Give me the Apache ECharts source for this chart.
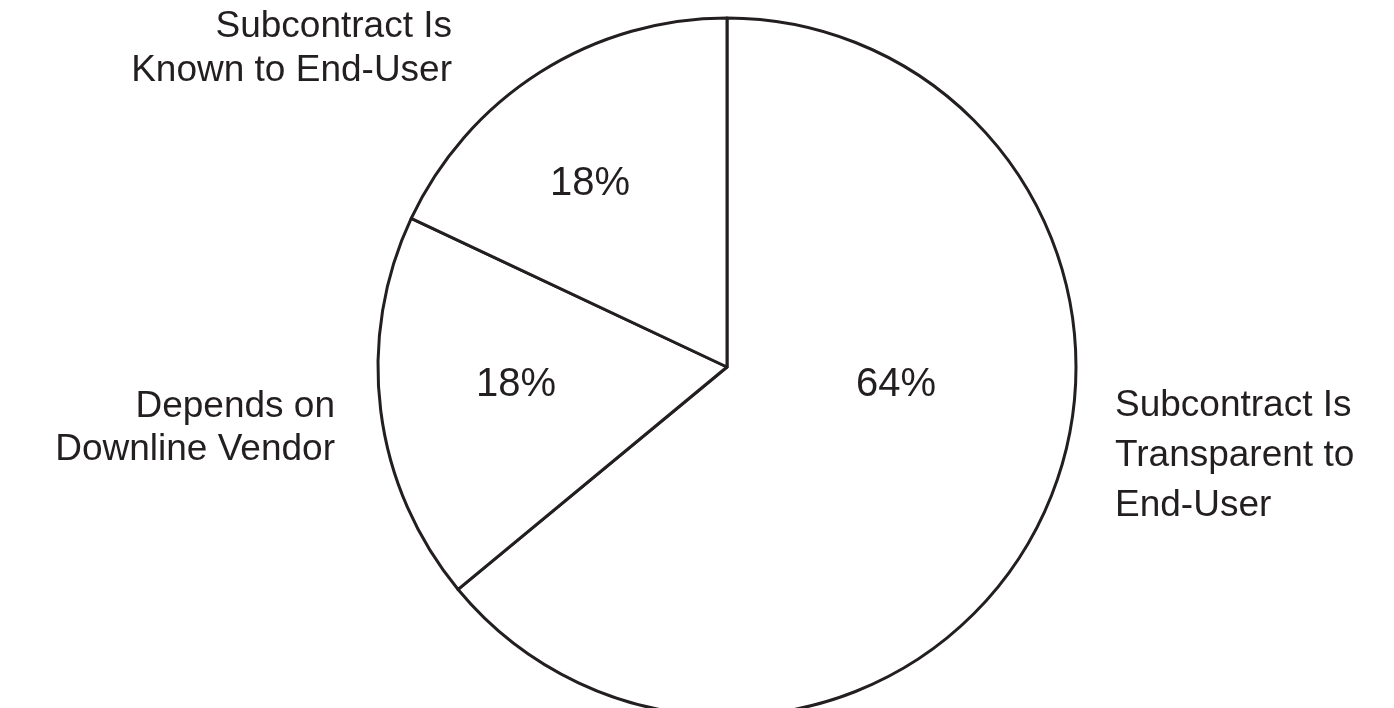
<!DOCTYPE html>
<html>
<head>
<meta charset="utf-8">
<script src="https://cdn.jsdelivr.net/npm/echarts@6/dist/echarts.min.js"></script>
<style>
  html, body { margin: 0; padding: 0; background: #fff; }
  #chart { width: 1394px; height: 708px; }
</style>
</head>
<body>
<div id="chart"></div>
<script>
// data, clockwise from 12 o'clock
const categories = [
  "Subcontract Is\nTransparent to\nEnd-User",
  "Depends on\nDownline Vendor",
  "Subcontract Is\nKnown to End-User"
]
const shares = [64, 18, 18]

// label placement (pixels), kept apart from the data
const pctPos = [[896, 385], [516, 385], [590, 184]]
const namePos = [
  { x: 1115, y: 456, align: "left", lineHeight: 50 },
  { x: 335, y: 428, align: "right", lineHeight: 43 },
  { x: 452, y: 49, align: "right", lineHeight: 44 }
]

const ink = "#231f20"
const font = "'Liberation Sans', Arial, Helvetica, sans-serif"

const chart = echarts.init(document.getElementById("chart"))

const option = {
  backgroundColor: "#fff",
  animation: false,
  series: [
    {
      type: "pie",
      center: [727, 367],
      radius: 349,
      startAngle: 90,
      clockwise: true,
      silent: true,
      itemStyle: { color: "#fff", borderColor: ink, borderWidth: 3 },
      label: {
        show: true,
        position: "inside",
        formatter: "{c}%",
        color: ink,
        fontFamily: font,
        fontSize: 40
      },
      labelLine: { show: false },
      labelLayout: (p) => ({
        x: pctPos[p.dataIndex][0],
        y: pctPos[p.dataIndex][1],
        align: "center",
        verticalAlign: "middle"
      }),
      data: categories.map((c, i) => ({ name: c, value: shares[i] }))
    },
    {
      // names only, slices invisible
      type: "pie",
      center: [727, 367],
      radius: 349,
      startAngle: 90,
      silent: true,
      itemStyle: { color: "rgba(0,0,0,0)", borderWidth: 0 },
      label: {
        show: true,
        position: "outside",
        formatter: "{b}",
        color: ink,
        fontFamily: font,
        fontSize: 37
      },
      labelLine: { show: false },
      labelLayout: (p) => ({
        x: namePos[p.dataIndex].x,
        y: namePos[p.dataIndex].y,
        align: namePos[p.dataIndex].align,
        verticalAlign: "middle"
      }),
      data: categories.map((c, i) => ({
        name: c,
        value: shares[i],
        label: { lineHeight: namePos[i].lineHeight, align: namePos[i].align }
      }))
    }
  ]
}

chart.setOption(option)
</script>
</body>
</html>
